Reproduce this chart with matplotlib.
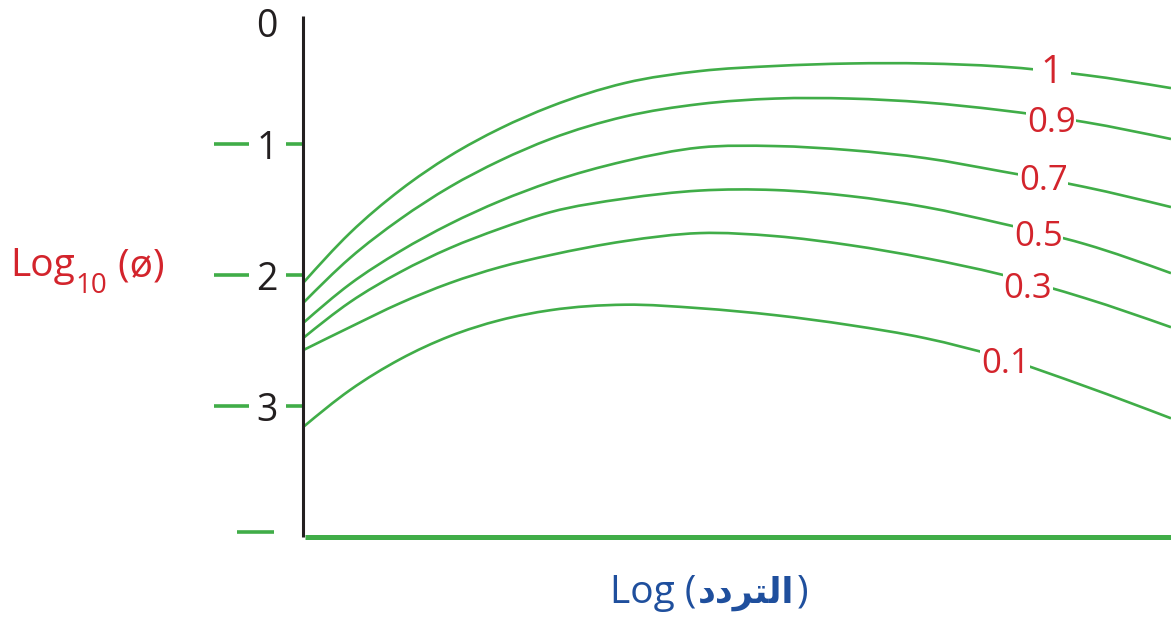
import matplotlib
matplotlib.use("Agg")
import matplotlib.pyplot as plt
from matplotlib.path import Path
from matplotlib.patches import PathPatch
from matplotlib.transforms import IdentityTransform

# ---- data -------------------------------------------------------------
log_freq = [0.0, 0.54, 1.12, 1.69, 2.27, 2.85, 3.71, 4.57, 5.44, 6.30, 7.17, 8.03, 9.01, 10.0]

phi_1_0 = [2.060, 1.678, 1.349, 1.089, 0.879, 0.711, 0.531, 0.440, 0.401, 0.382, 0.382, 0.405, 0.470, 0.570]
phi_0_9 = [2.213, 1.869, 1.571, 1.326, 1.124, 0.959, 0.787, 0.692, 0.650, 0.650, 0.680, 0.738, 0.830, 0.959]
phi_0_7 = [2.366, 2.068, 1.816, 1.609, 1.433, 1.288, 1.128, 1.024, 1.013, 1.044, 1.105, 1.204, 1.326, 1.479]
phi_0_5 = [2.481, 2.206, 1.976, 1.793, 1.644, 1.518, 1.414, 1.353, 1.349, 1.395, 1.479, 1.602, 1.762, 1.984]
phi_0_3 = [2.573, 2.397, 2.213, 2.060, 1.938, 1.846, 1.739, 1.678, 1.701, 1.770, 1.869, 1.992, 2.175, 2.397]
phi_0_1 = [3.161, 2.878, 2.641, 2.466, 2.343, 2.267, 2.225, 2.252, 2.305, 2.381, 2.481, 2.626, 2.848, 3.093]

curve_names = ["1", "0.9", "0.7", "0.5", "0.3", "0.1"]
curve_values = [phi_1_0, phi_0_9, phi_0_7, phi_0_5, phi_0_3, phi_0_1]

y_ticks = [1, 2, 3]
y_tick_labels = ["1", "2", "3"]

# ---- layout / style ---------------------------------------------------
label_pos = [(8.63, 0.417), (8.62, 0.806), (8.53, 1.250),
             (8.47, 1.678), (8.35, 2.076), (8.09, 2.649)]

GREEN = "#40ad48"
RED = "#d3242c"
BLUE = "#1f4f9d"
BLACK = "#231f20"
NUM_FONT = "Open Sans"
TXT_FONT = "Open Sans"

W, H, DPI = 1171, 617, 100
fig = plt.figure(figsize=(W / DPI, H / DPI), dpi=DPI)

x0_px, x1_px = 303, 1171
y0_px, y4_px = 13.5, 537
ax = fig.add_axes([x0_px / W, (H - y4_px) / H, (x1_px - x0_px) / W, (y4_px - y0_px) / H])
ax.set_xlim(0, 10)
ax.set_ylim(4, 0)
ax.axis("off")


def smooth_path(xs, ys):
    """Cubic Hermite curve through the points (three-point slopes), as Bezier segments."""
    n = len(xs)
    h = [xs[i + 1] - xs[i] for i in range(n - 1)]
    d = [(ys[i + 1] - ys[i]) / h[i] for i in range(n - 1)]
    m = [0.0] * n
    for i in range(1, n - 1):
        m[i] = (h[i] * d[i - 1] + h[i - 1] * d[i]) / (h[i - 1] + h[i])
    m[0] = (3 * d[0] - m[1]) / 2
    m[-1] = (3 * d[-1] - m[-2]) / 2
    verts = [(xs[0], ys[0])]
    codes = [Path.MOVETO]
    for i in range(n - 1):
        t = h[i] / 3
        verts += [(xs[i] + t, ys[i] + t * m[i]),
                  (xs[i + 1] - t, ys[i + 1] - t * m[i + 1]),
                  (xs[i + 1], ys[i + 1])]
        codes += [Path.CURVE4] * 3
    return Path(verts, codes)


for vals in curve_values:
    ax.add_patch(PathPatch(smooth_path(log_freq, vals), facecolor="none",
                           edgecolor=GREEN, lw=1.9, zorder=2))

# curve labels with white backing that breaks the line
for name, (lx, ly) in zip(curve_names, label_pos):
    size = 28 if name == "1" else 25
    pad = 6 if name == "1" else 0.5
    ax.text(lx, ly, name, color=RED, fontsize=size, family=NUM_FONT,
            ha="center", va="center_baseline", zorder=3,
            bbox=dict(facecolor="white", edgecolor="none", pad=pad))

# axes lines
ax.plot([0, 0], [0.02, 4.0], color=BLACK, lw=2.2, clip_on=False, solid_capstyle="butt", zorder=4)
ax.plot([0.02, 10], [4.0, 4.0], color=GREEN, lw=3.6, clip_on=False, solid_capstyle="butt", zorder=4)

# tick dashes and labels
px2x = lambda px: (px - x0_px) / 86.8
for t, lab in zip(y_ticks, y_tick_labels):
    ax.plot([px2x(214), px2x(249)], [t, t], color=GREEN, lw=2.6, clip_on=False, solid_capstyle="butt")
    ax.plot([px2x(286), px2x(303)], [t, t], color=GREEN, lw=2.6, clip_on=False, solid_capstyle="butt")
    ax.text(px2x(267), t, lab, color=BLACK, fontsize=27, family=NUM_FONT,
            ha="center", va="center_baseline", clip_on=False)
ax.plot([px2x(237), px2x(274)], [3.964, 3.964], color=GREEN, lw=2.6, clip_on=False, solid_capstyle="butt")
ax.text(px2x(267), 0.07, "0", color=BLACK, fontsize=27, family=NUM_FONT,
        ha="center", va="center_baseline", clip_on=False)


def place_run(parts, x_start, base_y, color, gap=0, centre=None):
    """Lay out several text pieces side by side in pixel coordinates."""
    texts = [fig.text(0, 0, s, color=color, transform=IdentityTransform(),
                      va="baseline", ha="left", **kw) for s, dy, kw in parts]
    fig.canvas.draw()
    r = fig.canvas.get_renderer()
    widths = [t.get_window_extent(r).width for t in texts]
    total = sum(widths) + gap * (len(widths) - 1)
    x = centre - total / 2 if centre is not None else x_start
    for t, w, (s, dy, kw) in zip(texts, widths, parts):
        t.set_position((x, base_y - dy))
        x += w + gap


# y axis title: Log with subscript 10
place_run([("Log", 0, dict(family=TXT_FONT, fontsize=28)),
           ("10", 17, dict(family=TXT_FONT, fontsize=20)),
           (" (ø)", 0, dict(family=TXT_FONT, fontsize=28))],
          10, H - 276, RED, gap=1)

# x axis title: "Log (" regular, Arabic bold (pre-shaped, visual order), ")" regular
arabic = "\uFEA9\uFEA9\uFEAE\uFE98\uFEDF\uFE8D"
place_run([("Log (", 0, dict(family=TXT_FONT, fontsize=28)),
           (arabic, 0, dict(family="DejaVu Sans", fontweight="bold", fontsize=25)),
           (")", 0, dict(family=TXT_FONT, fontsize=28))],
          0, H - 603, BLUE, gap=2, centre=709)

fig.savefig("out.png", dpi=DPI)
